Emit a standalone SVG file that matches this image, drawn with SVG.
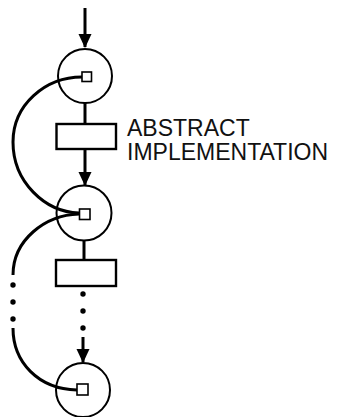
<svg xmlns="http://www.w3.org/2000/svg" width="338" height="417" viewBox="0 0 338 417">
<style>
.place{fill:none;stroke:#000;stroke-width:2}
.tok{fill:#fff;stroke:#000;stroke-width:1.6}
.trans{fill:#fff;stroke:#000;stroke-width:2.4}
.edge{fill:none;stroke:#000;stroke-width:3}
.dot{fill:#000}
.lbl{font-family:"Liberation Sans",Arial,sans-serif;font-size:23px;fill:#111}
</style>
<defs>
<marker id="ah" markerUnits="userSpaceOnUse" markerWidth="14" markerHeight="17" refX="13" refY="6.5" orient="auto">
<path d="M0,0 L14,6.5 L0,13 Z" fill="#000"/>
</marker>
</defs>
<g id="p1">
<circle class="place" cx="85" cy="76" r="27"/>
</g>
<g id="p2">
<circle class="place" cx="84" cy="213" r="27.5"/>
</g>
<g id="p3">
<circle class="place" cx="83" cy="390" r="27"/>
</g>
<g id="connectors">
<line class="edge" x1="85" y1="8" x2="85" y2="47" marker-end="url(#ah)"/>
<line class="edge" x1="85" y1="103" x2="85" y2="124"/>
<line class="edge" x1="85" y1="149" x2="85" y2="185" marker-end="url(#ah)"/>
<line class="edge" x1="84" y1="241" x2="84" y2="260"/>
<circle class="dot" cx="83" cy="294" r="2.7"/>
<circle class="dot" cx="83" cy="311" r="2.7"/>
<circle class="dot" cx="83" cy="328" r="2.7"/>
<line class="edge" x1="83" y1="337" x2="83" y2="362" marker-end="url(#ah)"/>
<path class="edge" d="M82,77 C45,77 13,105 13,142 C13,182 45,212 79,213"/>
<path class="edge" d="M79,214 C45,215 13,240 13,275"/>
<circle class="dot" cx="13" cy="285" r="2.7"/>
<circle class="dot" cx="13" cy="302" r="2.7"/>
<circle class="dot" cx="13" cy="319" r="2.7"/>
<path class="edge" d="M13,328 C13,362 38,389 77,390"/>
</g>
<g id="tokens">
<rect class="tok" x="82" y="72" width="9.5" height="9.5"/>
<rect class="tok" x="79.5" y="209" width="10.5" height="10.5"/>
<rect class="tok" x="77" y="384" width="11" height="11"/>
</g>
<g id="t1">
<rect class="trans" x="56.5" y="124" width="59.5" height="25"/>
</g>
<g id="label">
<text class="lbl" x="127" y="136">ABSTRACT</text>
<text class="lbl" x="127" y="160">IMPLEMENTATION</text>
</g>
<g id="t2">
<rect class="trans" x="56" y="260" width="60" height="26"/>
</g>
</svg>
